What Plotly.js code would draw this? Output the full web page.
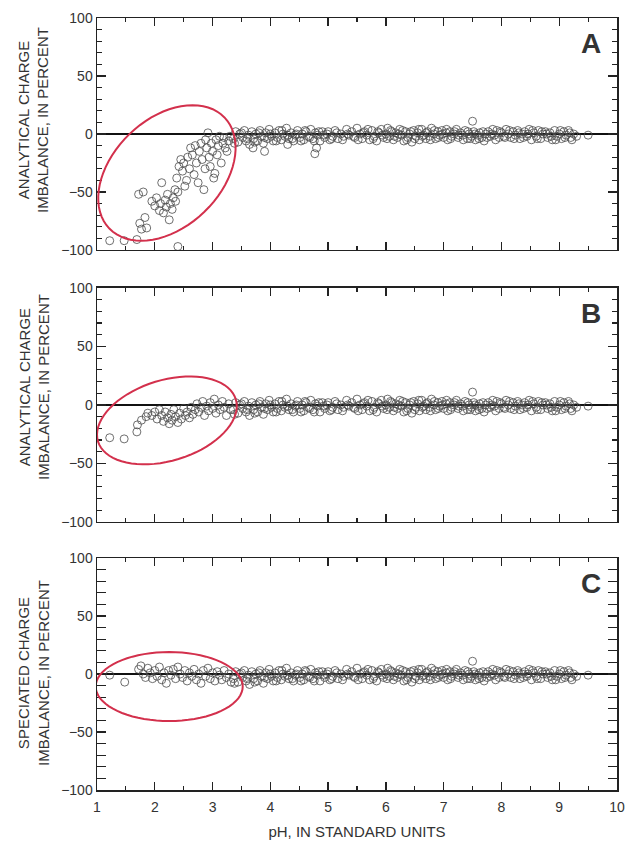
<!DOCTYPE html>
<html>
<head>
<meta charset="utf-8">
<script src="https://cdn.plot.ly/plotly-3.0.1.min.js"></script>
<style>html,body{margin:0;padding:0;background:#fff;}#chart{width:625px;height:843px;}</style>
</head>
<body>
<div id="chart"></div>
<script>
// Shared band of samples (pH > 3.3), nearly identical in all three panels
var bandPH = [3.36,3.40,3.44,3.47,3.52,3.55,3.58,3.62,3.64,3.68,3.71,3.75,3.78,3.82,3.85,3.88,3.92,3.95,3.98,4.02,4.05,4.08,4.12,4.15,4.19,4.22,4.25,4.28,4.32,4.36,4.40,4.43,4.47,4.51,4.55,4.58,4.62,4.66,4.70,4.74,4.78,4.82,4.86,4.90,4.94,4.98,5.03,5.08,5.12,5.17,5.22,5.27,5.32,5.36,5.41,5.46,5.50,5.55,5.59,5.63,5.67,5.72,5.76,5.80,5.84,5.88,5.92,5.96,6.00,6.03,6.06,6.10,6.13,6.17,6.20,6.24,6.27,6.31,6.34,6.38,6.41,6.45,6.48,6.52,6.55,6.58,6.62,6.65,6.69,6.72,6.76,6.79,6.83,6.86,6.90,6.93,6.97,7.00,7.04,7.07,7.11,7.14,7.18,7.22,7.25,7.29,7.33,7.37,7.41,7.44,7.48,7.50,7.52,7.55,7.59,7.62,7.66,7.70,7.73,7.77,7.81,7.85,7.88,7.92,7.96,8.00,8.04,8.08,8.12,8.16,8.20,8.24,8.28,8.32,8.36,8.40,8.44,8.48,8.52,8.56,8.60,8.64,8.68,8.72,8.76,8.80,8.84,8.88,8.92,8.96,9.00,9.04,9.08,9.12,9.16,9.20,9.25,9.50];
var bandImb = [-4,2,-7,0,-3,3,-6,-1,-9,2,-4,0,-6,3,-2,-8,1,-4,4,-2,-6,1,-3,3,-5,0,-2,5,-4,1,-6,-1,3,-3,0,-5,2,-2,4,-4,1,-1,-6,2,-3,0,-5,-2,3,-4,0,-2,4,-1,2,-3,5,0,-4,2,-1,-5,3,-2,-6,1,4,-3,0,5,-2,2,-5,1,-3,4,-1,-6,2,-3,0,-7,3,-2,1,-5,4,-1,-4,2,-2,5,0,-4,2,-1,3,-3,1,-5,2,-2,0,4,-3,1,-1,3,-4,0,-2,11,2,-5,-1,1,-3,-6,0,2,-2,4,-1,3,-3,1,-2,4,0,-3,2,-1,3,-4,0,2,-2,4,-5,1,-2,3,-4,0,2,-3,1,-5,3,-2,0,-4,2,-1,3,-3,0,-1];
var band2PH = [3.38,3.50,3.60,3.73,3.80,3.90,4.00,4.10,4.20,4.30,4.38,4.45,4.53,4.60,4.68,4.76,4.84,4.92,5.00,5.06,5.15,5.25,5.34,5.44,5.52,5.61,5.69,5.78,5.86,5.94,6.02,6.08,6.15,6.22,6.29,6.36,6.43,6.50,6.57,6.63,6.70,6.77,6.84,6.91,6.98,7.05,7.12,7.19,7.26,7.34,7.42,7.46,7.54,7.61,7.68,7.75,7.83,7.90,7.98,8.06,8.14,8.22,8.30,8.38,8.46,8.54,8.62,8.70,8.78,8.86,8.94,9.02,9.10,9.18,9.22,9.30];
var band2Imb = [-8,1,-4,-7,1,-3,0,-6,3,-1,-4,0,-6,3,-3,-6,2,-1,2,-4,1,-5,0,-2,-5,1,4,-4,2,-1,-4,3,-2,0,3,-5,2,-4,4,-2,1,-5,3,-3,0,4,-4,2,-1,-5,2,-4,0,-4,2,-3,0,-5,2,-3,3,-4,1,-3,0,3,-4,2,0,-2,-5,3,-3,1,-5,-2];

// Panel A: analytical charge imbalance, low-pH samples and outliers
var phA = [1.22,1.47,1.69,2.40,1.74,1.77,1.86,1.83,1.80,1.72,1.95,2.00,2.03,2.08,2.10,2.12,2.15,2.18,2.20,2.22,2.25,2.27,2.30,2.32,2.35,2.38,2.36,2.40,2.42,2.45,2.48,2.50,2.52,2.55,2.57,2.60,2.62,2.65,2.68,2.70,2.72,2.75,2.77,2.80,2.82,2.85,2.87,2.88,2.90,2.92,2.94,2.96,2.98,3.00,3.02,3.04,3.06,3.08,3.10,3.12,3.15,3.18,3.20,3.22,3.25,3.28,3.30,3.70,3.90,4.30,4.77,4.80];
var imbA = [-92,-92,-91,-97,-77,-82,-81,-72,-50,-52,-58,-62,-55,-66,-60,-42,-68,-57,-63,-52,-74,-60,-65,-55,-48,-38,-58,-50,-28,-22,-32,-25,-45,-40,-20,-30,-12,-18,-35,-10,-25,-42,-15,-8,-22,-48,-30,-5,-12,1,-20,-28,-8,-15,-38,-34,-5,-18,-10,-2,-25,-8,-3,-12,-15,-6,-2,-12,-15,-9,-17,-12];

// Panel B: analytical charge imbalance (revised), low-pH samples
var phB = [1.22,1.47,1.69,1.70,1.77,1.85,1.88,1.95,2.00,2.04,2.08,2.12,2.15,2.18,2.22,2.25,2.28,2.30,2.33,2.36,2.40,2.43,2.46,2.50,2.53,2.56,2.60,2.63,2.66,2.70,2.73,2.76,2.80,2.83,2.86,2.90,2.93,2.96,3.00,3.03,3.06,3.10,3.13,3.17,3.20,3.24,3.28,3.31];
var imbB = [-28,-29,-23,-17,-13,-10,-7,-9,-6,-12,-4,-9,-14,-6,-11,-16,-8,-13,-4,-10,-15,-7,-12,-3,-9,-6,-11,-2,-8,-4,1,-6,-2,3,-9,-1,-5,2,-3,5,-7,0,-4,3,-2,-9,1,-4];

// Panel C: speciated charge imbalance, low-pH samples
var phC = [1.22,1.48,1.72,1.76,1.80,1.84,1.88,1.92,1.96,2.00,2.04,2.08,2.12,2.16,2.20,2.24,2.28,2.32,2.36,2.40,2.44,2.48,2.52,2.56,2.60,2.64,2.68,2.72,2.76,2.80,2.84,2.88,2.92,2.96,3.00,3.04,3.08,3.12,3.16,3.20,3.24,3.28,3.32];
var imbC = [-1,-7,4,7,0,-3,5,1,-4,3,-2,6,-5,1,-8,3,-1,4,-4,6,0,-3,3,-6,1,-2,4,-5,0,-8,3,-2,5,-4,1,-6,2,-1,-5,3,-3,0,-7];

var xTickVals = [1,2,3,4,5,6,7,8,9,10];
var yTickVals = [-100,-50,0,50,100];
var panelLetters = ["A","B","C"];
var yTitles = ["ANALYTICAL CHARGE<br>IMBALANCE, IN PERCENT","ANALYTICAL CHARGE<br>IMBALANCE, IN PERCENT","SPECIATED CHARGE<br>IMBALANCE, IN PERCENT"];
var xTitle = "pH, IN STANDARD UNITS";

var FONT = "Liberation Sans, Arial, sans-serif";
var TXT = "#333";

function mk(x, y, xa, ya) {
  return {x: x, y: y, xaxis: xa, yaxis: ya, type: "scatter", mode: "markers", hoverinfo: "skip", showlegend: false,
    marker: {symbol: "circle-open", size: 8, color: "#4a4a4a", line: {width: 0.8}}};
}

var bx = bandPH.concat(band2PH), by = bandImb.concat(band2Imb);
var data = [
  mk(bx.concat(phA), by.concat(imbA), "x2", "y"),
  mk(bx.concat(phB), by.concat(imbB), "x3", "y2"),
  mk(bx.concat(phC), by.concat(imbC), "x", "y3"),
  // carrier for the labelled bottom axis (no visible marks)
  {x: [], y: [], xaxis: "x4", yaxis: "y3", type: "scatter", mode: "markers", showlegend: false, hoverinfo: "skip"}
];

// ellipse outline as a path in data space (sizes given in screen px, converted with axis scale)
var SX = 520 / 9, SY = 232 / 200;
function ellipse(xr, yr, cx, cy, a, b, deg) {
  var th = deg * Math.PI / 180, p = "";
  for (var i = 0; i <= 72; i++) {
    var t = i / 72 * 2 * Math.PI;
    var dx = a * Math.cos(t) * Math.cos(th) - b * Math.sin(t) * Math.sin(th);
    var dy = a * Math.cos(t) * Math.sin(th) + b * Math.sin(t) * Math.cos(th);
    p += (i === 0 ? "M" : "L") + (cx + dx / SX).toFixed(4) + "," + (cy + dy / SY).toFixed(4);
  }
  return {type: "path", xref: xr, yref: yr, path: p + "Z", line: {color: "#d3304c", width: 2}, layer: "above"};
}

function xax(anchor) {
  return {anchor: anchor, range: [1, 10], tickvals: xTickVals, ticks: "inside", ticklen: 8, tickwidth: 1.3, tickcolor: "#222",
    minor: {dtick: 0.5, tick0: 1, ticks: "inside", ticklen: 4, tickwidth: 1.2, tickcolor: "#222"},
    showline: true, linecolor: "#222", linewidth: 1.5, mirror: "allticks", showgrid: false, zeroline: false,
    showticklabels: false, fixedrange: true};
}
function yax(dom, anchor) {
  return {domain: dom, anchor: anchor, range: [-100, 100], tickvals: yTickVals, ticks: "inside", ticklen: 9, tickwidth: 1.3, tickcolor: "#222",
    minor: {dtick: 10, tick0: 0, ticks: "inside", ticklen: 5, tickwidth: 1.2, tickcolor: "#222"},
    showline: true, linecolor: "#222", linewidth: 1.5, mirror: "allticks", showgrid: false,
    zeroline: true, zerolinecolor: "#111", zerolinewidth: 1.6,
    ticksuffix: "\u00a0\u00a0",
    tickfont: {family: FONT, size: 14, color: TXT}, fixedrange: true};
}
function ytitle(txt, yp) {
  return {xref: "paper", yref: "paper", x: -0.1212, y: yp, xanchor: "center", yanchor: "middle", textangle: -90,
    text: txt, showarrow: false, font: {family: FONT, size: 15, color: TXT}};
}
function letter(txt, xr, yr) {
  return {xref: xr, yref: yr, x: 9.55, y: 78, text: "<b>" + txt + "</b>", showarrow: false, font: {family: FONT, size: 28, color: TXT}};
}

var layout = {
  width: 625, height: 843,
  margin: {l: 97, r: 8, t: 18, b: 53},
  paper_bgcolor: "#fff", plot_bgcolor: "#fff",
  xaxis: xax("y3"),
  xaxis2: Object.assign(xax("y"), {matches: "x"}),
  xaxis3: Object.assign(xax("y2"), {matches: "x"}),
  xaxis4: {overlaying: "x", anchor: "y3", side: "bottom", range: [1, 10], tickvals: xTickVals,
    ticks: "outside", ticklen: 4, tickcolor: "rgba(0,0,0,0)", showline: false, showgrid: false, zeroline: false,
    tickfont: {family: FONT, size: 14, color: TXT},
    title: {text: xTitle, font: {family: FONT, size: 15, color: TXT}, standoff: 12}, fixedrange: true},
  yaxis: yax([0.6995, 1], "x2"),
  yaxis2: yax([0.3472, 0.6503], "x3"),
  yaxis3: yax([0, 0.3005], "x"),
  shapes: [
    ellipse("x2", "y", 2.21, -33.6, 80, 54, 44),
    ellipse("x3", "y2", 2.21, -13.2, 72, 40, 16.8),
    ellipse("x", "y3", 2.25, -10.8, 73.5, 34.5, 0)
  ],
  annotations: [
    letter(panelLetters[0], "x2", "y"),
    letter(panelLetters[1], "x3", "y2"),
    letter(panelLetters[2], "x", "y3"),
    ytitle(yTitles[0], 0.8679),
    ytitle(yTitles[1], 0.5220),
    ytitle(yTitles[2], 0.1516)
  ]
};

Plotly.newPlot("chart", data, layout, {displayModeBar: false, staticPlot: true});
</script>
</body>
</html>
